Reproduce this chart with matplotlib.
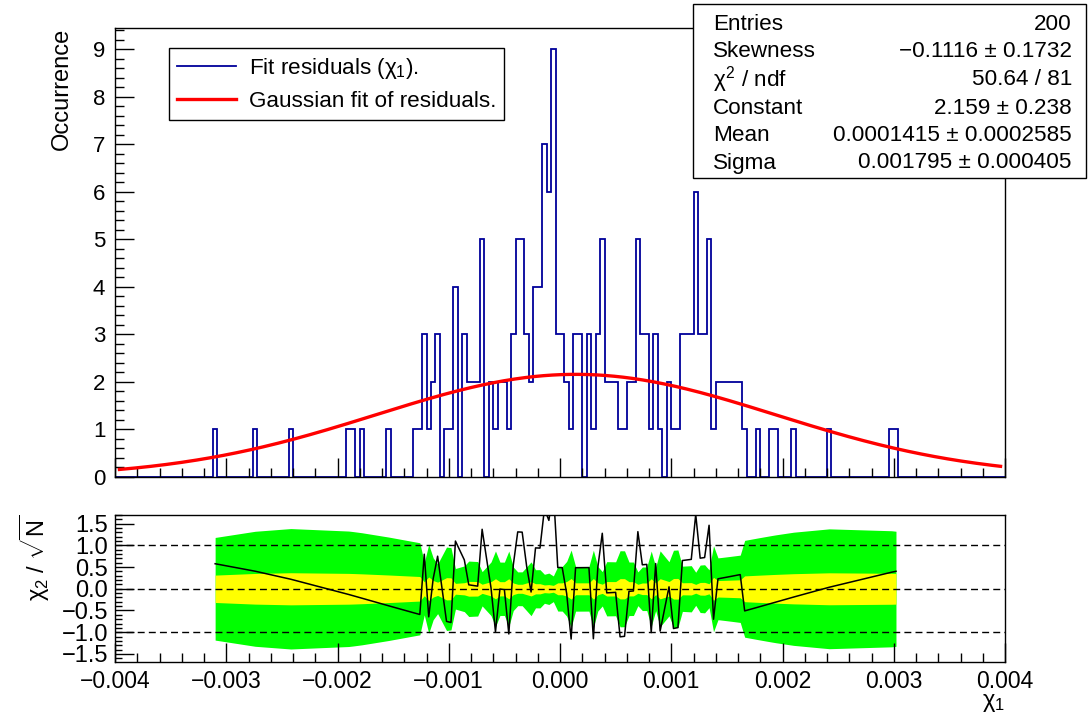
import numpy as np
import matplotlib
matplotlib.use('Agg')
import matplotlib.pyplot as plt
from matplotlib.lines import Line2D
from matplotlib.patches import Rectangle
from matplotlib.ticker import MultipleLocator, FuncFormatter

plt.rcParams['font.family'] = ['Liberation Sans', 'DejaVu Sans']
plt.rcParams['mathtext.fontset'] = 'custom'
plt.rcParams['mathtext.rm'] = 'Liberation Sans'
plt.rcParams['mathtext.it'] = 'Liberation Sans'
plt.rcParams['mathtext.sf'] = 'Liberation Sans'

# histogram: 200 bins between -0.004 and 0.004, only the filled ones listed
n_bins = 200
x_lo, x_hi = -0.004, 0.004
filled_bins = [22, 31, 39, 52, 53, 55, 61,
               67, 68, 69, 70, 71, 72, 74, 75, 76, 78, 79, 80, 81, 82,
               84, 85, 86, 87, 88, 89, 90, 91, 92, 93, 94, 95, 96, 97, 98,
               99, 100, 101, 102, 103, 104, 106, 107, 108, 109, 110, 111, 112,
               113, 114, 115, 116, 117, 118, 119, 120, 121, 122,
               124, 125, 126, 127, 128, 129, 130, 131, 132, 133, 134,
               135, 136, 137, 138, 139, 140, 141,
               144, 147, 148, 152, 160, 174, 175]
bin_counts = [1, 1, 1, 1, 1, 1, 1,
              1, 1, 3, 1, 2, 3, 1, 1, 4, 3, 2, 2, 2, 5,
              2, 1, 2, 2, 1, 3, 5, 5, 3, 2, 4, 4, 7, 6, 9,
              3, 3, 2, 1, 3, 3, 3, 1, 3, 5, 2, 2, 2,
              1, 1, 2, 2, 5, 3, 3, 1, 3, 1,
              2, 1, 1, 3, 3, 3, 6, 3, 3, 5, 1,
              2, 2, 2, 2, 2, 2, 1,
              1, 1, 1, 1, 1, 1, 1]

# gaussian fit results (stats box)
fit_const, fit_const_err = 2.159, 0.238
fit_mean, fit_mean_err = 0.0001415, 0.0002585
fit_sigma, fit_sigma_err = 0.001795, 0.000405

stats_labels = ['Entries', 'Skewness', r'$\chi^{2}$ / ndf', 'Constant', 'Mean', 'Sigma']
stats_values = ['200', '\u22120.1116 \u00b1 0.1732', '50.64 / 81', '2.159 \u00b1 0.238',
                '0.0001415 \u00b1 0.0002585', '0.001795 \u00b1 0.000405']

W, H = 1089, 715
fig = plt.figure(figsize=(W / 100, H / 100), dpi=100)
ax1 = fig.add_axes([115 / W, 1 - 477 / H, 890 / W, 449.3 / H])
ax2 = fig.add_axes([115 / W, 1 - 661.7 / H, 890 / W, 146.7 / H])

edges = np.linspace(x_lo, x_hi, n_bins + 1)
counts = np.zeros(n_bins)
counts[filled_bins] = bin_counts


def gauss(x):
    return fit_const * np.exp(-0.5 * ((x - fit_mean) / fit_sigma) ** 2)


blue = '#00009a'
ax1.stairs(counts, edges, color=blue, lw=1.3)
xf = np.linspace(-0.00396, 0.00396, 400)
ax1.plot(xf, gauss(xf), color='red', lw=2.4)
ax1.set_xlim(x_lo, x_hi)
ax1.set_ylim(0, 9.45)

# lower pad: residuals (h - f) / sqrt(h) at the filled bins, with fit bands
h = np.array(bin_counts, dtype=float)
xc = edges[filled_bins] + (edges[1] - edges[0]) / 2
resid = (h - gauss(xc)) / np.sqrt(h)
f = gauss(xc)
z = (xc - fit_mean) / fit_sigma
d_a = f / fit_const * fit_const_err
d_m = f * z / fit_sigma * fit_mean_err
d_s = f * z ** 2 / fit_sigma * fit_sigma_err
ci = np.sqrt(d_a ** 2 + d_m ** 2 + d_s ** 2 - 0.8 * d_a * d_s) / np.sqrt(h)

ax2.fill_between(xc, -3.75 * ci, 3.75 * ci, color='#00ff00', lw=0, zorder=1)
ax2.fill_between(xc, -1.0 * ci, 1.0 * ci, color='#ffff00', lw=0, zorder=2)
for yl in [-1, 0, 1]:
    ax2.axhline(yl, color='black', lw=1, ls=(0, (5, 3)), zorder=3)
ax2.plot(xc, resid, color='black', lw=1.1, zorder=4)
ax2.set_xlim(x_lo, x_hi)
ax2.set_ylim(-1.68, 1.70)

for ax in [ax1, ax2]:
    ax.xaxis.set_major_locator(MultipleLocator(0.001))
    ax.xaxis.set_minor_locator(MultipleLocator(0.0002))
    ax.tick_params(which='major', direction='in', length=13.5, width=1, top=False, right=False)
    ax.tick_params(which='minor', direction='in', length=6.5, width=1, top=False, right=False)
    for sp in ax.spines.values():
        sp.set_linewidth(1)

ax1.yaxis.set_major_locator(MultipleLocator(1))
ax1.yaxis.set_minor_locator(MultipleLocator(0.2))
ax1.tick_params(axis='x', labelbottom=False)
ax1.tick_params(axis='y', labelsize=16, pad=7)

ax2.yaxis.set_major_locator(MultipleLocator(0.5))
ax2.yaxis.set_minor_locator(MultipleLocator(0.1))
ax2.tick_params(axis='y', which='minor', length=5)
ax2.tick_params(axis='y', labelsize=17, pad=5)
ax2.tick_params(axis='x', labelsize=16.5, pad=6)


def fmt_x(v, pos):
    if abs(v) < 1e-9:
        v = 0.0
    return f'{v:.3f}'.replace('-', '\u2212')


ax2.xaxis.set_major_formatter(FuncFormatter(fmt_x))

ax1.set_ylabel('Occurrence', fontsize=17, ha='right', va='center')
ax1.yaxis.set_label_coords((62 - 115) / 890, 1.0)
ax2.set_ylabel(r'$\chi_{2}$ / $\sqrt{N}$', fontsize=17, ha='right', va='center')
ax2.yaxis.set_label_coords((35 - 115) / 890, 1.0)
ax2.set_xlabel(r'$\chi_{1}$', fontsize=17, ha='right', va='center')
ax2.xaxis.set_label_coords(1.0, (661.7 - 703) / 146.7)

handles = [Line2D([], [], color=blue, lw=1.3), Line2D([], [], color='red', lw=2.4)]
ax1.legend(handles, [r'Fit residuals ($\chi_{1}$).', 'Gaussian fit of residuals.'],
           loc='upper left', bbox_to_anchor=((169 - 115) / 890, 1 - (48 - 27.7) / 449.3),
           borderaxespad=0, fontsize=16.2, handlelength=2.62, handletextpad=0.58,
           borderpad=0.35, labelspacing=0.45, fancybox=False, framealpha=1,
           edgecolor='black', frameon=True).get_frame().set_linewidth(1)

# stats box
box_l, box_r, box_t, box_b = 693, 1086, 4, 178
fig.patches.append(Rectangle((box_l / W, 1 - box_b / H), (box_r - box_l) / W, (box_b - box_t) / H,
                             transform=fig.transFigure, facecolor='white', edgecolor='black',
                             lw=1, zorder=5))
row_y = [24, 51.5, 79.5, 108, 135.5, 163]
for lab, val, yy in zip(stats_labels, stats_values, row_y):
    fig.text(713 / W, 1 - yy / H, lab, ha='left', va='center', fontsize=16.2, zorder=6)
    fig.text(1072 / W, 1 - yy / H, val, ha='right', va='center', fontsize=16.2, zorder=6)

plt.savefig('out.png', dpi=100)
